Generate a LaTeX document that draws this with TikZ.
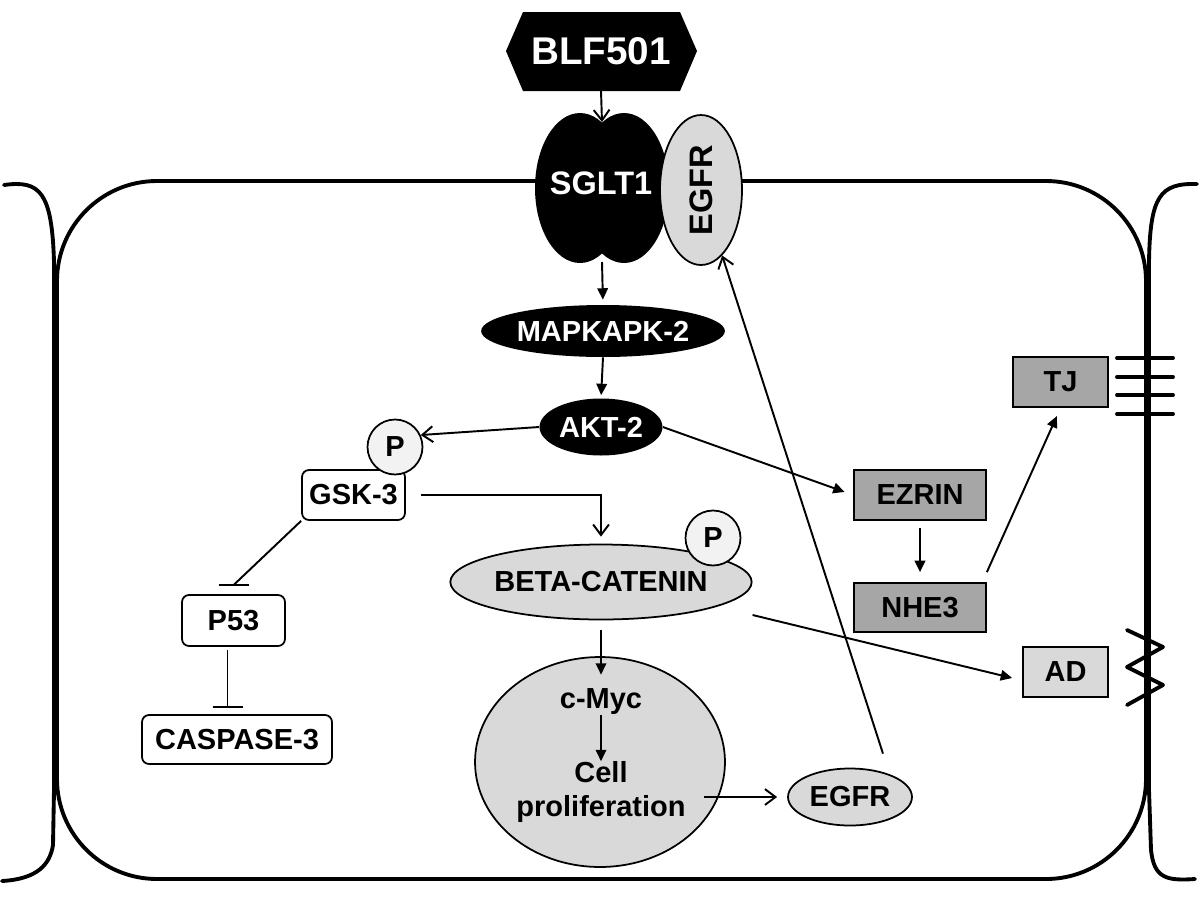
\documentclass[tikz,border=0pt]{standalone}
\usepackage{fontspec}
\setmainfont{Liberation Sans}
\usetikzlibrary{arrows.meta,shapes.geometric,calc}
\definecolor{dgray}{HTML}{A6A6A6}
\definecolor{lgray}{HTML}{D9D9D9}
\definecolor{pgray}{HTML}{F2F2F2}
\begin{document}
\begin{tikzpicture}[x=0.02cm,y=-0.02cm,
  lab/.style={font=\bfseries\fontsize{16.5}{19.5}\selectfont, inner sep=0pt, align=center},
  mem/.style={line width=2.2pt, line cap=round, line join=round},
  conn/.style={line width=1.1pt},
  barb/.style={conn, -{Straight Barb[length=6pt,width=9pt,line width=1.1pt]}},
  tri/.style={conn, -{Triangle[length=6.5pt,width=6pt]}},
  blkell/.style={lab, ellipse, fill=black, text=white},
  rbox/.style={lab, rectangle, rounded corners=4pt, draw, line width=1pt, fill=white},
  dbox/.style={lab, rectangle, draw, line width=1pt, fill=dgray},
  lbox/.style={lab, rectangle, draw, line width=1pt, fill=lgray},
  lell/.style={lab, ellipse, draw, line width=1pt, fill=lgray},
  phos/.style={lab, circle, draw, line width=1pt, fill=pgray, minimum size=1.1cm}
]
\useasboundingbox (0,0) rectangle (1200,910);

% cell membranes
\draw[mem, rounded corners=2cm] (57,181) rectangle (1146,879);
\draw[mem] (4,185) .. controls (40,180) and (52,192) .. (54,262) -- (54,790) -- (53,845) .. controls (50,864) and (38,879) .. (2,881);
\draw[mem] (1197,184) .. controls (1160,183) and (1150,196) .. (1149,262) -- (1149,790) -- (1151,850) .. controls (1154,878) and (1166,881) .. (1195,879);
% tight junctions
\foreach \yy in {358,377,395,414} \draw[mem] (1117,\yy) -- (1173,\yy);
% adherens junction zigzag
\draw[mem] (1127,630) -- (1163,647) -- (1127,667) -- (1163,685) -- (1127,705);

% BLF501
\fill[black] (506,51) -- (523,12) -- (680,12) -- (697,51) -- (680,91) -- (523,91) -- cycle;
\node[lab, text=white, font=\bfseries\fontsize{22}{26}\selectfont, minimum height=1.58cm] (blf) at (601,51) {BLF501};

% SGLT1
\fill[black] (580,188) ellipse [x radius=0.9cm, y radius=1.5cm];
\fill[black] (624,188) ellipse [x radius=0.9cm, y radius=1.5cm];
\node[lab, text=white, font=\bfseries\fontsize{18.5}{22}\selectfont] (sglt) at (601,183) {SGLT1};
\coordinate (sgltTop) at (602,122);
\coordinate (sgltBot) at (602,262);

% membrane EGFR
\node[lell, rotate=90, minimum width=3cm, minimum height=1.64cm, font=\bfseries\fontsize{18.5}{22}\selectfont] (egfrm) at (701,190) {EGFR};

% nodes
\node[blkell, minimum width=4.44cm, minimum height=1.04cm] (mapk) at (603,331) {MAPKAPK-2};
\node[blkell, minimum width=2.46cm, minimum height=1.14cm] (akt) at (601,427) {AKT-2};
\node[rbox, minimum width=2.06cm, minimum height=1cm] (gsk) at (353.5,495) {GSK-3};
\node[phos] (pg) at (395,447) {P};
\node[lell, minimum width=5.84cm, minimum height=1.5cm] (beta) at (601,582) {BETA-CATENIN};
\node[phos] (pb) at (713,538) {P};
\node[rbox, minimum width=2.06cm, minimum height=1.02cm] (p53) at (233.5,620.5) {P53};
\node[rbox, minimum width=3.8cm, minimum height=0.98cm] (casp) at (237,739.5) {CASPASE-3};
\node[lell, minimum width=5cm, minimum height=4.2cm] (nuc) at (600,762) {};
\node[lab] (cmyc) at (601,702) {c-Myc};
\node[lab, font=\bfseries\fontsize{16.5}{19.3}\selectfont] (cellp) at (601,792) {Cell\\proliferation};
\node[lell, minimum width=2.48cm, minimum height=1.14cm] (egfrs) at (850,797) {EGFR};
\node[dbox, minimum width=2.64cm, minimum height=1cm] (ezrin) at (920,495) {EZRIN};
\node[dbox, minimum width=2.64cm, minimum height=0.98cm] (nhe) at (920,607.5) {NHE3};
\node[dbox, minimum width=1.9cm, minimum height=1cm] (tj) at (1060.5,382) {TJ};
\node[lbox, minimum width=1.7cm, minimum height=1cm] (ad) at (1065.5,672) {AD};

% connectors
\draw[barb] (blf.south) -- (sgltTop);
\draw[tri, shorten >=0.1cm] (sgltBot) -- (mapk.north);
\draw[tri, shorten >=0.06cm] (mapk.south) -- (akt.north);
\draw[barb] (akt.west) -- (pg.25);
\draw[tri, shorten >=0.18cm] (akt.east) -- (ezrin.west);
\draw[barb, shorten <=0.3cm, shorten >=0.14cm] (gsk.east) -| (beta.north);
% inhibition GSK-3 -| P53
\draw[conn] (gsk.south west) -- ([yshift=0.18cm]p53.north);
\draw[conn] ([shift={(-0.3cm,0.18cm)}]p53.north) -- ([shift={(0.3cm,0.18cm)}]p53.north);
% inhibition P53 -| CASPASE-3
\path (p53.south |- casp.north) coordinate (cn);
\draw[conn] ([shift={(-0.12cm,-0.06cm)}]p53.south) -- ([shift={(-0.12cm,0.14cm)}]cn);
\draw[conn] ([shift={(-0.42cm,0.14cm)}]cn) -- ([shift={(0.18cm,0.14cm)}]cn);
% nucleus
\draw[tri, shorten <=0.2cm, shorten >=0.28cm] (beta.south) -- (cmyc.north);
\draw[tri] (cmyc.south) -- (cellp.north);
\path (cellp.east |- egfrs.west) coordinate (cpE);
\draw[barb, shorten <=0.36cm, shorten >=0.2cm] (cpE) -- (egfrs.west);
\draw[barb] ([shift={(0.66cm,0.28cm)}]egfrs.north) -- (egfrm);
% ezrin / nhe3 / tj / ad
\draw[tri, shorten <=0.14cm, shorten >=0.2cm] (ezrin.south) -- (nhe.north);
\draw[tri, shorten >=0.18cm] ([yshift=0.2cm]nhe.north east) -- (tj.south);
\draw[tri] ([yshift=-0.66cm]beta.east) -- ([shift={(-0.2cm,-0.12cm)}]ad.west);
\end{tikzpicture}
\end{document}
